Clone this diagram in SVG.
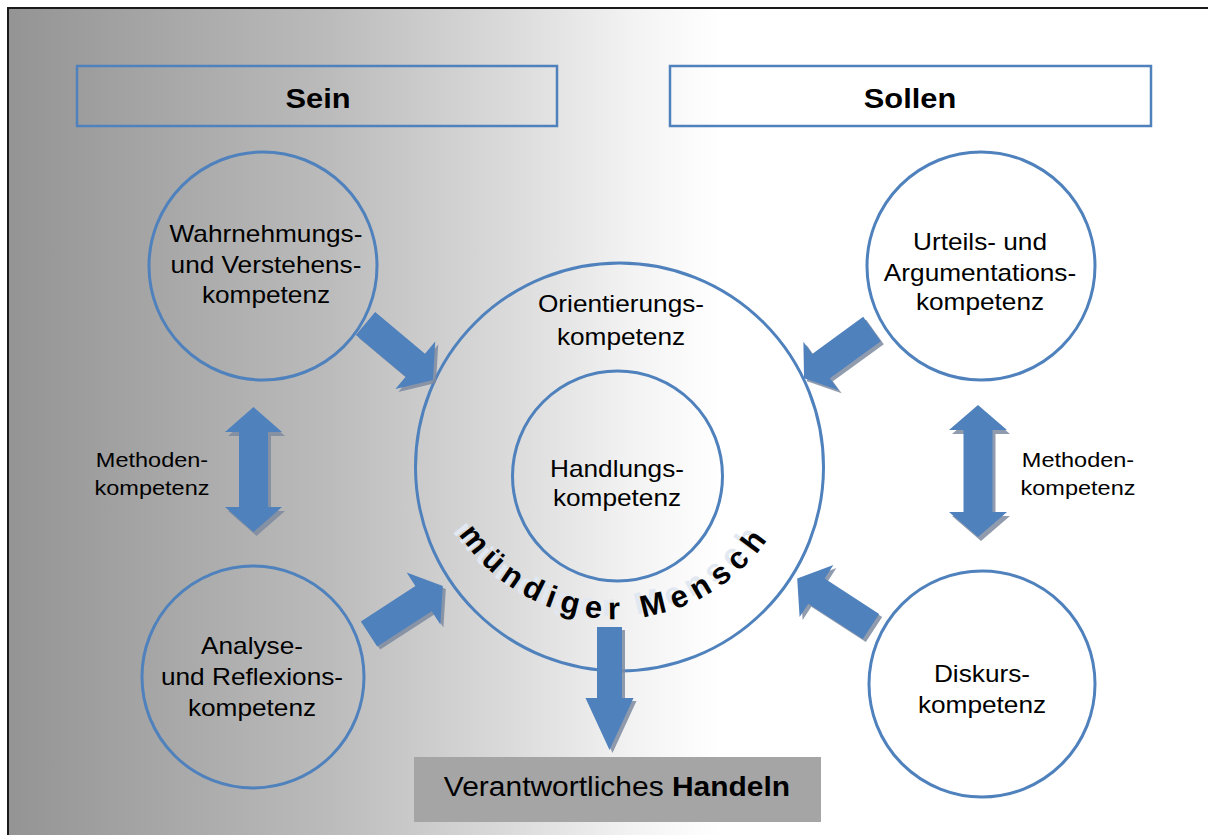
<svg xmlns="http://www.w3.org/2000/svg" xmlns:xlink="http://www.w3.org/1999/xlink" width="1208" height="835" viewBox="0 0 1208 835">
<style>
.t{font-family:"Liberation Sans",Arial,sans-serif;fill:#000;text-anchor:middle}
.c{fill:none;stroke:#4f81bd;stroke-width:3}
.box{fill:none;stroke:#4f81bd;stroke-width:2.5}
.ar{fill:#4f81bd}
.sh{fill:#7d8aa0;opacity:0.85}
.lbl{font-size:23px}
.small{font-size:21px}
.head{font-size:28px;font-weight:bold}
.curve{font-family:"Liberation Sans",Arial,sans-serif;font-size:31px;font-weight:bold;letter-spacing:7px;text-anchor:middle}
</style>
<defs>
<linearGradient id="bg" gradientUnits="userSpaceOnUse" x1="8" y1="0" x2="720" y2="0">
<stop offset="0" stop-color="#949494"/>
<stop offset="0.15" stop-color="#a1a1a1"/>
<stop offset="0.45" stop-color="#bbbbbb"/>
<stop offset="0.7" stop-color="#dadada"/>
<stop offset="0.88" stop-color="#f3f3f3"/>
<stop offset="1" stop-color="#ffffff"/>
</linearGradient>
<path id="arc" d="M446.4,511.6 A186,186 0 0 0 783.6,511.6"/>
<path id="a1" d="M0,-15 H65 V-31 L88,0 L65,31 V15 H0 Z" transform="translate(365.5,323.5) rotate(40)"/>
<path id="a2" d="M0,-15 H65 V-31 L88,0 L65,31 V15 H0 Z" transform="translate(369,634) rotate(-33)"/>
<path id="a3" d="M0,-15 H63 V-30 L84,0 L63,30 V15 H0 Z" transform="translate(872,329) rotate(144)"/>
<path id="a4" d="M0,-15 H65 V-31 L88,0 L65,31 V15 H0 Z" transform="translate(871,626.5) rotate(213)"/>
<path id="d1" d="M253.5,407 L282,432 H268 V507 H282 L253.5,532 L225,507 H239 V432 H225 Z"/>
<path id="d2" d="M978,405 L1007,430 H992.5 V512 H1007 L978,537 L949,512 H963.5 V430 H949 Z"/>
<path id="dn" d="M597,627 H622 V698 H633.5 L609.5,750 L585.5,698 H597 Z"/>
</defs>
<rect width="1208" height="835" fill="#fff"/>
<rect x="8" y="8" width="1300" height="900" fill="url(#bg)" stroke="#1a1a1a" stroke-width="2"/>

<g id="sein">
<rect class="box" x="77" y="66" width="480" height="60"/>
<text class="t head" transform="translate(318 0) scale(1.1 1)" x="0" y="108">Sein</text>
</g>
<g id="sollen">
<rect class="box" x="670" y="66" width="481" height="60"/>
<text class="t head" transform="translate(910 0) scale(1.1 1)" x="0" y="108">Sollen</text>
</g>

<g id="wahrnehmung">
<circle class="c" cx="263" cy="266" r="114"/>
<text class="t lbl" transform="translate(266 0) scale(1.14 1)"><tspan x="0" y="242">Wahrnehmungs-</tspan><tspan x="0" y="273">und Verstehens-</tspan><tspan x="0" y="303">kompetenz</tspan></text>
</g>
<g id="analyse">
<circle class="c" cx="253" cy="677" r="111"/>
<text class="t lbl" transform="translate(252 0) scale(1.14 1)"><tspan x="0" y="654">Analyse-</tspan><tspan x="0" y="685">und Reflexions-</tspan><tspan x="0" y="716">kompetenz</tspan></text>
</g>
<g id="urteil">
<circle class="c" cx="981" cy="266" r="114"/>
<text class="t lbl" transform="translate(980 0) scale(1.14 1)"><tspan x="0" y="250">Urteils- und</tspan><tspan x="0" y="281">Argumentations-</tspan><tspan x="0" y="310">kompetenz</tspan></text>
</g>
<g id="diskurs">
<circle class="c" cx="982" cy="684" r="113"/>
<text class="t lbl" transform="translate(982 0) scale(1.14 1)"><tspan x="0" y="682">Diskurs-</tspan><tspan x="0" y="713">kompetenz</tspan></text>
</g>
<g id="orientierung">
<circle class="c" cx="619.5" cy="467" r="204"/>
<text class="t lbl" transform="translate(621 0) scale(1.14 1)"><tspan x="0" y="312">Orientierungs-</tspan><tspan x="0" y="345">kompetenz</tspan></text>
</g>
<g id="handlung">
<circle class="c" cx="617.5" cy="476" r="105"/>
<text class="t lbl" transform="translate(617 0) scale(1.14 1)"><tspan x="0" y="477">Handlungs-</tspan><tspan x="0" y="506">kompetenz</tspan></text>
</g>
<g id="methoden-links">
<text class="t small" transform="translate(152 0) scale(1.12 1)"><tspan x="0" y="467">Methoden-</tspan><tspan x="0" y="495">kompetenz</tspan></text>
</g>
<g id="methoden-rechts">
<text class="t small" transform="translate(1078 0) scale(1.12 1)"><tspan x="0" y="467">Methoden-</tspan><tspan x="0" y="495">kompetenz</tspan></text>
</g>
<g id="handeln">
<rect x="414" y="757" width="407" height="65" fill="#a5a5a5"/>
<text class="t" style="font-size:27.5px" transform="translate(617 0) scale(1.09 1)" x="0" y="796">Verantwortliches <tspan font-weight="bold">Handeln</tspan></text>
</g>

<g id="connectors">
<use href="#a1" class="sh" x="3" y="3"/><use href="#a1" class="ar"/>
<use href="#a2" class="sh" x="3" y="3"/><use href="#a2" class="ar"/>
<use href="#a3" class="sh" x="3" y="3"/><use href="#a3" class="ar"/>
<use href="#a4" class="sh" x="3" y="3"/><use href="#a4" class="ar"/>
<use href="#d1" class="sh" x="3" y="4"/><use href="#d1" class="ar"/>
<use href="#d2" class="sh" x="3" y="4"/><use href="#d2" class="ar"/>
<use href="#dn" class="sh" x="3" y="3"/><use href="#dn" class="ar"/>
</g>

<g id="muendiger-mensch">
<text class="curve" fill="#e1e8f1" transform="translate(-6 -3)"><textPath href="#arc" startOffset="50%">mündiger Mensch</textPath></text>
<text class="curve" fill="#000"><textPath href="#arc" startOffset="50%">mündiger Mensch</textPath></text>
</g>
</svg>
